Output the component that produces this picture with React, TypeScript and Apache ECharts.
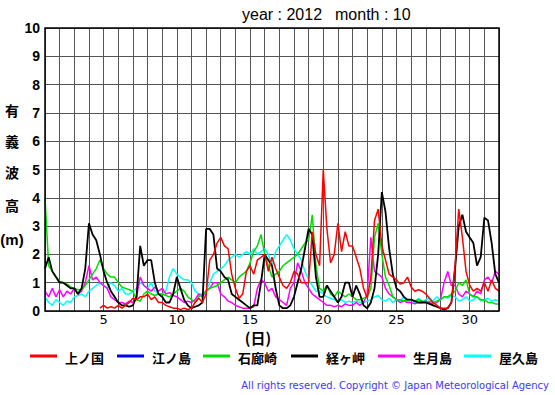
import React, { useEffect, useRef } from "react";
import * as echarts from "echarts";

// Significant wave height (m), October 2012, sampled every 6 hours (4 per day), day 1.00 -> day 32.00
const seriesNames = ["上ノ国", "江ノ島", "石廊崎", "経ヶ岬", "生月島", "屋久島"];
const seriesColors = ["#ff0000", "#0000ff", "#00dd00", "#000000", "#ff00ff", "#00ffff"];
const samplesPerDay = 4;
const xTickLabels = [5, 10, 15, 20, 25, 30];
const yTickLabels = [0, 1, 2, 3, 4, 5, 6, 7, 8, 9, 10];

const kaminokuni: (number | null)[] = [
  null, null, null, null, // 1
  null, null, null, null, // 2
  null, null, null, null, // 3
  null, null, null, 0.1, // 4
  0.2, 0.1, 0.15, 0.1, // 5
  0.2, 0.1, 0.2, 0.3, // 6
  0.45, 0.4, 0.5, 0.5, // 7
  0.6, 0.4, 0.5, 0.3, // 8
  0.3, 0.2, 0.15, 0.1, // 9
  0.1, 0.05, 0.1, 0.05, // 10
  0.1, 0.3, 0.45, 0.3, // 11
  0.6, 1.8, 2.0, 2.4, // 12
  2.6, 2.3, 2.2, 1.3, // 13
  0.8, 0.45, 0.6, 1.4, // 14
  1.6, 1.3, 1.8, 1.9, // 15
  2.0, 1.4, 1.9, 1.5, // 16
  1.2, 0.9, 0.8, 1.0, // 17
  1.4, 1.3, 1.0, 1.0, // 18
  1.0, 2.8, 2.0, 1.6, // 19
  5.0, 2.9, 1.7, 2.0, // 20
  3.1, 2.1, 2.8, 2.3, // 21
  2.3, 1.9, 1.5, 0.8, // 22
  0.45, 1.2, 3.2, 3.6, // 23
  2.3, 1.8, 1.3, 1.2, // 24
  1.1, 0.95, 1.0, 1.2, // 25
  0.85, 0.7, 0.75, 0.7, // 26
  0.6, 0.45, 0.3, 0.2, // 27
  0.1, 0.1, 0.1, 0.3, // 28
  1.6, 3.6, 2.6, 1.4, // 29
  0.9, 0.7, 0.8, 0.7, // 30
  1.0, 0.7, 1.1, 0.8, // 31
  0.7, // 32
];

const enoshima: (number | null)[] = [];

const irozaki: (number | null)[] = [
  4.0, 1.6, 1.4, 1.2, // 1
  1.05, 1.0, 0.95, 0.85, // 2
  0.8, 0.75, 0.75, 0.9, // 3
  1.1, 1.3, 1.5, 1.8, // 4
  1.5, 1.3, 1.2, 1.2, // 5
  1.0, 0.85, 0.8, 0.75, // 6
  0.7, 0.4, 0.35, 0.6, // 7
  0.7, 0.6, 0.55, 0.6, // 8
  0.6, 0.55, 0.5, 0.6, // 9
  0.7, 0.8, 0.7, 0.5, // 10
  0.4, 0.3, 0.5, 0.6, // 11
  0.7, 0.8, 0.85, 0.9, // 12
  1.0, 1.1, 1.2, 1.1, // 13
  1.0, 1.2, 1.3, 1.4, // 14
  1.7, 2.1, 2.3, 2.7, // 15
  2.0, 1.6, 1.2, 1.3, // 16
  1.4, 1.6, 1.7, 1.8, // 17
  1.9, 2.0, 2.2, 2.4, // 18
  2.5, 3.4, 1.6, 0.8, // 19
  0.7, 0.9, 0.6, 0.5, // 20
  0.7, 0.6, 0.5, 0.6, // 21
  0.5, 0.4, 0.4, 0.45, // 22
  0.5, 0.8, 2.6, 3.1, // 23
  2.0, 1.2, 0.9, 0.5, // 24
  0.4, 0.4, 0.35, 0.4, // 25
  0.4, 0.35, 0.4, 0.35, // 26
  0.3, 0.35, 0.3, 0.35, // 27
  0.4, 0.5, 0.5, 0.6, // 28
  0.7, 1.0, 0.9, 1.1, // 29
  0.6, 0.5, 0.5, 0.4, // 30
  0.4, 0.3, 0.3, 0.25, // 31
  0.25, // 32
];

const kyogamisaki: (number | null)[] = [
  1.5, 1.9, 1.4, 1.2, // 1
  1.0, 1.0, 0.9, 0.8, // 2
  0.8, 0.6, 0.8, 1.5, // 3
  3.1, 2.7, 2.5, 2.0, // 4
  1.4, 1.0, 0.7, 0.5, // 5
  0.3, 0.2, 0.2, 0.15, // 6
  0.2, 0.5, 2.3, 1.6, // 7
  1.8, 1.8, 1.0, 0.6, // 8
  0.5, 0.3, 0.3, 0.6, // 9
  1.2, 0.8, 0.4, 0.2, // 10
  0.1, 0.15, 0.2, 0.3, // 11
  2.9, 2.9, 2.7, 1.5, // 12
  1.4, 1.2, 1.1, 0.6, // 13
  0.5, 0.4, 0.3, 0.2, // 14
  0.1, 0.2, 0.2, 1.0, // 15
  2.0, 1.8, 1.6, 0.8, // 16
  0.2, 0.1, 0.1, 0.2, // 17
  0.5, 1.0, 1.5, 2.2, // 18
  2.9, 2.7, 1.2, 0.5, // 19
  0.5, 0.9, 0.7, 0.5, // 20
  0.3, 0.5, 1.0, 1.0, // 21
  0.5, 0.9, 0.6, 0.2, // 22
  0.1, 0.3, 0.8, 2.0, // 23
  4.2, 3.5, 2.2, 1.3, // 24
  0.8, 0.7, 0.5, 0.4, // 25
  0.4, 0.35, 0.3, 0.3, // 26
  0.3, 0.25, 0.2, 0.15, // 27
  0.1, 0.05, 0.1, 0.3, // 28
  1.5, 3.0, 3.4, 2.8, // 29
  2.6, 2.4, 1.6, 1.9, // 30
  3.3, 3.2, 2.4, 1.3, // 31
  1.0, // 32
];

const ikitsukishima: (number | null)[] = [
  0.7, 0.5, 0.8, 0.5, // 1
  0.75, 0.5, 0.7, 0.6, // 2
  0.8, 0.6, 0.7, 1.0, // 3
  1.6, 1.1, 1.2, 1.0, // 4
  0.9, 0.8, 0.5, 0.4, // 5
  0.3, 0.3, 0.25, 0.35, // 6
  0.3, 0.5, 1.2, 0.9, // 7
  0.8, 0.7, 0.85, 0.7, // 8
  0.8, 0.6, 0.65, 0.55, // 9
  0.5, 0.4, 0.3, 0.35, // 10
  0.3, 0.4, 0.6, 0.5, // 11
  0.7, 0.8, 1.0, 1.0, // 12
  0.6, 0.5, 0.35, 0.3, // 13
  0.2, 0.15, 0.1, 0.1, // 14
  0.1, 0.15, 0.8, 1.1, // 15
  1.0, 0.7, 0.8, 0.5, // 16
  0.4, 0.3, 0.2, 0.8, // 17
  1.0, 1.7, 1.4, 1.0, // 18
  0.8, 0.6, 0.5, 0.4, // 19
  0.3, 0.2, 0.2, 0.15, // 20
  0.2, 0.15, 0.25, 0.2, // 21
  0.2, 0.3, 0.2, 0.3, // 22
  0.6, 2.6, 1.4, 1.3, // 23
  1.2, 0.8, 0.6, 0.5, // 24
  0.4, 0.3, 0.35, 0.3, // 25
  0.3, 0.25, 0.3, 0.3, // 26
  0.35, 0.3, 0.25, 0.3, // 27
  0.4, 1.0, 1.4, 0.9, // 28
  0.9, 0.6, 0.5, 0.7, // 29
  0.6, 0.5, 0.7, 0.6, // 30
  1.1, 1.2, 1.0, 1.4, // 31
  1.3, // 32
];

const yakushima: (number | null)[] = [
  0.5, 0.3, 0.2, 0.4, // 1
  0.3, 0.2, 0.35, 0.3, // 2
  0.5, 0.55, 0.6, 0.5, // 3
  0.7, 0.8, 0.9, 1.0, // 4
  0.9, 0.8, 1.0, 0.9, // 5
  0.7, 0.8, 0.6, 0.6, // 6
  0.7, 0.8, 1.0, 0.9, // 7
  0.8, 1.0, 0.7, 0.6, // 8
  0.6, 0.7, 1.2, 1.5, // 9
  1.3, 1.2, 1.1, 1.1, // 10
  1.0, 0.7, 0.6, 0.6, // 11
  0.7, 1.0, 1.3, 1.4, // 12
  1.5, 1.6, 1.8, 1.9, // 13
  2.0, 1.9, 2.0, 2.1, // 14
  2.0, 2.2, 2.0, 2.1, // 15
  2.2, 2.0, 1.6, 2.1, // 16
  2.3, 2.5, 2.7, 2.5, // 17
  2.2, 2.0, 1.8, 1.4, // 18
  1.1, 0.9, 0.7, 0.7, // 19
  0.6, 0.5, 0.45, 0.4, // 20
  0.35, 0.4, 0.3, 0.35, // 21
  0.3, 0.35, 0.3, 0.3, // 22
  0.35, 0.4, 0.5, 0.55, // 23
  0.4, 0.35, 0.45, 0.3, // 24
  0.4, 0.35, 0.5, 0.3, // 25
  0.4, 0.3, 0.45, 0.35, // 26
  0.4, 0.45, 0.35, 0.5, // 27
  0.4, 0.5, 0.45, 0.55, // 28
  0.5, 0.35, 0.4, 0.5, // 29
  0.35, 0.4, 0.5, 0.35, // 30
  0.4, 0.45, 0.35, 0.4, // 31
  0.35, // 32
];

const seriesValues = [kaminokuni, enoshima, irozaki, kyogamisaki, ikitsukishima, yakushima];
const drawOrder = [1, 5, 4, 2, 3, 0];

const legendX = [30, 117, 203, 291, 378, 464];
const yTitleChars = ["有", "義", "波", "高", "(m)"];
const yTitleY = [110, 141, 172, 205, 239];

export default function App() {
  const ref = useRef<HTMLDivElement>(null);
  useEffect(() => {
    if (!ref.current) return;
    const chart = echarts.init(ref.current, null, { renderer: "svg" });
    const series = drawOrder.map((idx) => ({
      type: "line",
      name: seriesNames[idx],
      data: seriesValues[idx].map((v, i) => [1 + i / samplesPerDay, v]),
      showSymbol: false,
      symbol: "none",
      connectNulls: false,
      lineStyle: { color: seriesColors[idx], width: idx === 3 ? 1.8 : 1.5 },
      itemStyle: { color: seriesColors[idx] },
      z: 3,
    }));
    const graphics: any[] = [];
    graphics.push({
      type: "text",
      style: { text: "year : 2012", x: 242, y: 14, font: "16px 'Liberation Sans', Arial, sans-serif", fill: "#000", textVerticalAlign: "middle" },
    });
    graphics.push({
      type: "text",
      style: { text: "month : 10", x: 335, y: 14, font: "16px 'Liberation Sans', Arial, sans-serif", fill: "#000", textVerticalAlign: "middle" },
    });
    yTitleChars.forEach((c, i) => {
      graphics.push({
        type: "text",
        style: {
          text: c, x: 12, y: yTitleY[i],
          font: i === 4 ? "bold 15px 'Liberation Sans', Arial, sans-serif" : "bold 14px 'Noto Sans CJK JP', sans-serif",
          fill: "#000", textAlign: "center", textVerticalAlign: "middle",
        },
      });
    });
    graphics.push({
      type: "text",
      style: { text: "(日)", x: 258, y: 337, font: "bold 15px 'Noto Sans CJK JP', sans-serif", fill: "#000", textAlign: "center", textVerticalAlign: "middle" },
    });
    seriesNames.forEach((n, i) => {
      graphics.push({
        type: "line",
        shape: { x1: legendX[i], y1: 356, x2: legendX[i] + 27, y2: 356 },
        style: { stroke: seriesColors[i], lineWidth: 3 },
      });
      graphics.push({
        type: "text",
        style: { text: n, x: legendX[i] + 35, y: 357, font: "bold 13px 'Noto Sans CJK JP', sans-serif", fill: "#000", textVerticalAlign: "middle" },
      });
    });
    graphics.push({
      type: "text",
      style: {
        text: "All rights reserved. Copyright © Japan Meteorological Agency",
        x: 549, y: 385, font: "10px 'DejaVu Sans', sans-serif", fill: "#3b3bf0", textAlign: "right", textVerticalAlign: "middle",
      },
    });

    chart.setOption({
      animation: false,
      backgroundColor: "#fff",
      grid: { left: 45, top: 28, right: 56, bottom: 84, show: true, borderColor: "#000", borderWidth: 1.5, backgroundColor: "transparent", z: 4 },
      xAxis: {
        type: "value",
        min: 1,
        max: 32,
        interval: 1,
        axisLine: { show: false },
        axisTick: { show: false },
        splitLine: { show: true, lineStyle: { color: "#555", width: 1 } },
        axisLabel: {
          margin: 2,
          fontSize: 13,
          fontFamily: "'DejaVu Sans', sans-serif",
          color: "#000",
          formatter: (v: number) => (xTickLabels.includes(v) ? String(v) : ""),
        },
      },
      yAxis: {
        type: "value",
        min: 0,
        max: 10,
        interval: 1,
        axisLine: { show: false },
        axisTick: { show: false },
        splitLine: { show: true, lineStyle: { color: "#555", width: 1 } },
        axisLabel: {
          margin: 5,
          fontSize: 14,
          fontWeight: "bold",
          fontFamily: "'Liberation Sans', Arial, sans-serif",
          color: "#000",
          formatter: (v: number) => (yTickLabels.includes(v) ? String(v) : ""),
        },
      },
      series,
      graphic: graphics,
    });
    return () => chart.dispose();
  }, []);
  return <div ref={ref} style={{ width: 555, height: 395, position: "absolute", left: 0, top: 0 }} />;
}
